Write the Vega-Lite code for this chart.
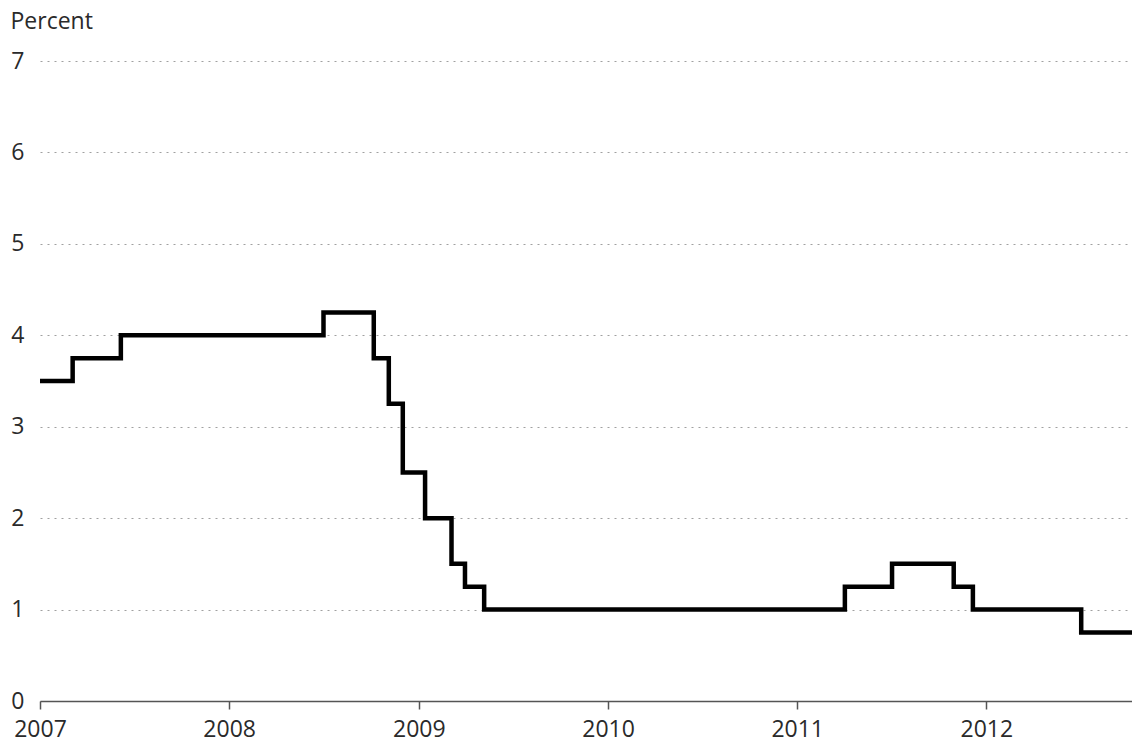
{
  "$schema": "https://vega.github.io/schema/vega-lite/v6.json",
  "width": 1092,
  "height": 640,
  "autosize": {"type": "none"},
  "padding": {"left": 40, "top": 61, "right": 0, "bottom": 43},
  "background": "white",
  "config": {
    "view": {"stroke": null},
    "font": "Open Sans",
    "axis": {"labelFont": "Open Sans", "titleFont": "Open Sans", "labelColor": "#2a2a2a", "titleColor": "#2a2a2a"}
  },
  "data": {
    "values": [
      {"date": "2007-01-01", "rate": 3.5},
      {"date": "2007-03-05", "rate": 3.75},
      {"date": "2007-06-06", "rate": 4.0},
      {"date": "2008-07-01", "rate": 4.25},
      {"date": "2008-10-06", "rate": 3.75},
      {"date": "2008-11-04", "rate": 3.25},
      {"date": "2008-12-01", "rate": 2.5},
      {"date": "2009-01-13", "rate": 2.0},
      {"date": "2009-03-05", "rate": 1.5},
      {"date": "2009-03-31", "rate": 1.25},
      {"date": "2009-05-07", "rate": 1.0},
      {"date": "2011-04-03", "rate": 1.25},
      {"date": "2011-07-03", "rate": 1.5},
      {"date": "2011-10-30", "rate": 1.25},
      {"date": "2011-12-06", "rate": 1.0},
      {"date": "2012-07-02", "rate": 0.75},
      {"date": "2012-10-10", "rate": 0.75}
    ]
  },
  "mark": {"type": "line", "interpolate": "step-after", "color": "black", "strokeWidth": 4.5, "clip": true, "strokeJoin": "miter", "strokeCap": "butt"},
  "encoding": {
    "x": {
      "field": "date",
      "type": "temporal",
      "scale": {"type": "utc", "domain": [{"year": 2007, "month": 1, "date": 1, "utc": true}, {"year": 2012, "month": 10, "date": 8, "utc": true}]},
      "axis": {
        "title": null,
        "values": [
          {"year": 2007, "month": 1, "date": 1, "utc": true},
          {"year": 2008, "month": 1, "date": 1, "utc": true},
          {"year": 2009, "month": 1, "date": 1, "utc": true},
          {"year": 2010, "month": 1, "date": 1, "utc": true},
          {"year": 2011, "month": 1, "date": 1, "utc": true},
          {"year": 2012, "month": 1, "date": 1, "utc": true}
        ],
        "format": "%Y",
        "formatType": "utc",
        "grid": false,
        "domainColor": "#555555",
        "domainWidth": 1.5,
        "tickColor": "#555555",
        "tickWidth": 1.5,
        "tickSize": 8,
        "labelFontSize": 23,
        "labelPadding": 9,
        "labelFlush": false,
        "labelOverlap": false
      }
    },
    "y": {
      "field": "rate",
      "type": "quantitative",
      "scale": {"domain": [0, 7], "nice": false, "zero": true},
      "axis": {
        "values": [0, 1, 2, 3, 4, 5, 6, 7],
        "title": "Percent",
        "titleAngle": 0,
        "titleAlign": "left",
        "titleBaseline": "alphabetic",
        "titleX": -30,
        "titleY": -33,
        "titleFontSize": 23,
        "titleFontWeight": "normal",
        "domain": false,
        "ticks": false,
        "labelFontSize": 23,
        "labelPadding": 16,
        "grid": true,
        "gridColor": "#a0a0a0",
        "gridDash": [2, 5],
        "gridWidth": 1
      }
    }
  }
}
